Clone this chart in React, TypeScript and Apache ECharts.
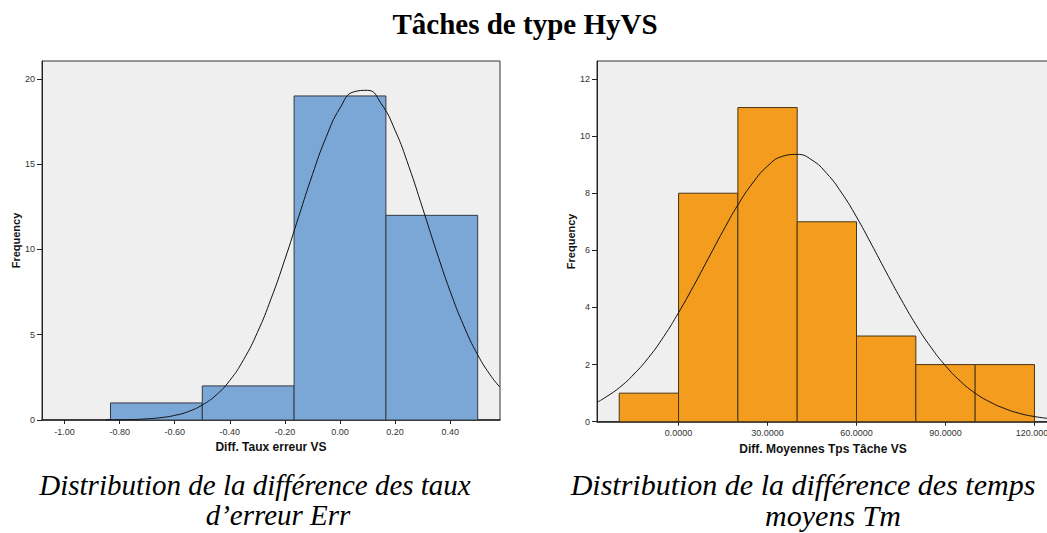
import React, { useEffect, useRef } from "react";
import * as echarts from "echarts";

// ---- Left histogram: Diff. Taux erreur VS ----
const errBinEdges = [-0.8333, -0.5, -0.1667, 0.1667, 0.5];
const errCounts = [1, 2, 19, 12];
const errTicks = [-1.0, -0.8, -0.6, -0.4, -0.2, 0.0, 0.2, 0.4];
const errYTicks = [0, 5, 10, 15, 20];
// fitted normal curve
const errCurveX = [-0.85, -0.8, -0.75, -0.7, -0.65, -0.6, -0.55, -0.5, -0.45, -0.4, -0.35, -0.3, -0.25, -0.2, -0.15, -0.1, -0.05, 0.0, 0.05, 0.1, 0.15, 0.2, 0.25, 0.3, 0.35, 0.4, 0.45, 0.5, 0.55, 0.58];
const errCurveY = [0.01, 0.02, 0.03, 0.07, 0.14, 0.27, 0.5, 0.88, 1.46, 2.32, 3.54, 5.13, 7.12, 9.42, 11.92, 14.39, 16.6, 18.29, 19.24, 19.33, 18.54, 16.99, 14.87, 12.42, 9.91, 7.55, 5.5, 3.82, 2.54, 1.94];

// ---- Right histogram: Diff. Moyennes Tps Tâche VS ----
const tpsBinEdges = [-20, 0, 20, 40, 60, 80, 100, 120];
const tpsCounts = [1, 8, 11, 7, 3, 2, 2];
const tpsTicks = [0, 30, 60, 90, 120];
const tpsYTicks = [0, 2, 4, 6, 8, 10, 12];
const tpsCurveX = [-27.5, -25, -20, -15, -10, -5, 0, 5, 10, 15, 20, 25, 30, 35, 40, 45, 50, 55, 60, 65, 70, 75, 80, 85, 90, 95, 100, 105, 110, 115, 120, 125];
const tpsCurveY = [0.68, 0.83, 1.19, 1.67, 2.26, 2.98, 3.82, 4.74, 5.71, 6.68, 7.59, 8.36, 8.95, 9.29, 9.36, 9.16, 8.69, 8.01, 7.17, 6.22, 5.24, 4.29, 3.4, 2.62, 1.96, 1.42, 1.0, 0.69, 0.46, 0.29, 0.18, 0.11];

const mainTitle = "Tâches de type HyVS";
const leftCaption = ["Distribution de la différence des taux", "d’erreur Err"];
const rightCaption = ["Distribution de la différence des temps", "moyens Tm"];

const SANS = "'Liberation Sans', Arial, sans-serif";
const SERIF = "'Liberation Serif', 'Times New Roman', serif";

function histData(edges: number[], counts: number[]) {
  return counts.map((c, i) => [edges[i], edges[i + 1], c]);
}

function makeRender(fill: string, stroke: string) {
  return (params: any, api: any) => {
    const x0 = api.value(0);
    const x1 = api.value(1);
    const c = api.value(2);
    const p0 = api.coord([x0, c]);
    const p1 = api.coord([x1, 0]);
    return {
      type: "rect",
      shape: { x: p0[0], y: p0[1], width: p1[0] - p0[0], height: p1[1] - p0[1] },
      style: { fill, stroke, lineWidth: 1 },
    };
  };
}

function xAxisCfg(gridIndex: number, min: number, max: number, ticks: number[], digits: number, name: string) {
  return {
    type: "value",
    gridIndex,
    min,
    max,
    name,
    nameLocation: "middle",
    nameGap: 20,
    nameTextStyle: { fontFamily: SANS, fontWeight: "bold", fontSize: 12, color: "#111" },
    axisLine: { show: true, onZero: false, lineStyle: { color: "#222", width: 1.5 } },
    axisTick: { show: true, length: 4, customValues: ticks, lineStyle: { color: "#222" } },
    axisLabel: {
      customValues: ticks,
      fontFamily: SANS,
      fontSize: 9,
      color: "#333",
      margin: 7,
      formatter: (v: number) => v.toFixed(digits),
    },
    splitLine: { show: false },
  };
}

function yAxisCfg(gridIndex: number, max: number, ticks: number[], nameGap: number) {
  return {
    type: "value",
    gridIndex,
    min: 0,
    max,
    name: "Frequency",
    nameLocation: "middle",
    nameRotate: 90,
    nameGap,
    nameTextStyle: { fontFamily: SANS, fontWeight: "bold", fontSize: 11, color: "#111" },
    axisLine: { show: true, onZero: false, lineStyle: { color: "#222" } },
    axisTick: { show: true, length: 5, customValues: ticks, lineStyle: { color: "#222" } },
    axisLabel: { customValues: ticks, fontFamily: SANS, fontSize: 9, color: "#333", margin: 7 },
    splitLine: { show: false },
  };
}

export default function App() {
  const ref = useRef<HTMLDivElement>(null);
  useEffect(() => {
    if (!ref.current) return;
    const chart = echarts.init(ref.current, undefined, { renderer: "svg" });
    const caption = (lines: string[], x: number, y: number, size: number, lh: number, shift: number) => ({
      type: "text",
      x,
      y,
      style: {
        text: `{a|${lines[0]}}\n{b|${lines[1]}}`,
        textAlign: "center",
        textVerticalAlign: "top",
        rich: {
          a: { font: `italic ${size}px ${SERIF}`, fill: "#000", color: "#000", lineHeight: lh },
          b: { font: `italic ${size}px ${SERIF}`, fill: "#000", color: "#000", lineHeight: lh, padding: [0, 0, 0, shift] },
        },
      },
    });
    chart.setOption({
      animation: false,
      grid: [
        { left: 42, top: 61, width: 458, height: 359, show: true, backgroundColor: "#efefef", borderColor: "#333", borderWidth: 1, outerBoundsMode: "none", containLabel: false },
        { left: 597, top: 61, width: 452, height: 360.7, show: true, backgroundColor: "#efefef", borderColor: "#333", borderWidth: 1, outerBoundsMode: "none", containLabel: false },
      ],
      xAxis: [
        xAxisCfg(0, -1.082, 0.581, errTicks, 2, "Diff. Taux erreur VS"),
        xAxisCfg(1, -27.5, 124.9, tpsTicks, 4, "Diff. Moyennes Tps Tâche VS"),
      ],
      yAxis: [yAxisCfg(0, 21.05, errYTicks, 20), yAxisCfg(1, 12.63, tpsYTicks, 19)],
      series: [
        {
          type: "custom",
          xAxisIndex: 0,
          yAxisIndex: 0,
          renderItem: makeRender("#7ba7d7", "#333a44"),
          encode: { x: [0, 1], y: 2 },
          data: histData(errBinEdges, errCounts),
          z: 2,
        },
        {
          type: "line",
          xAxisIndex: 0,
          yAxisIndex: 0,
          smooth: true,
          symbol: "none",
          lineStyle: { color: "#111", width: 1 },
          data: errCurveX.map((x, i) => [x, errCurveY[i]]),
          z: 3,
        },
        {
          type: "custom",
          xAxisIndex: 1,
          yAxisIndex: 1,
          renderItem: makeRender("#f39c1e", "#4a3512"),
          encode: { x: [0, 1], y: 2 },
          data: histData(tpsBinEdges, tpsCounts),
          z: 2,
        },
        {
          type: "line",
          xAxisIndex: 1,
          yAxisIndex: 1,
          smooth: true,
          symbol: "none",
          lineStyle: { color: "#111", width: 1 },
          data: tpsCurveX.map((x, i) => [x, tpsCurveY[i]]),
          z: 3,
        },
      ],
      graphic: [
        {
          type: "text",
          x: 525,
          y: 38,
          style: {
            text: mainTitle,
            font: `bold 29px ${SERIF}`,
            fill: "#000",
            textAlign: "center",
            textVerticalAlign: "bottom",
          },
        },
        caption(leftCaption, 255, 470, 29, 30, 46),
        caption(rightCaption, 803, 469, 30, 31, 60),
      ],
    });
    return () => chart.dispose();
  }, []);
  return (
    <div
      ref={ref}
      style={{ position: "absolute", left: 0, top: 0, width: 1047, height: 533 }}
    />
  );
}
